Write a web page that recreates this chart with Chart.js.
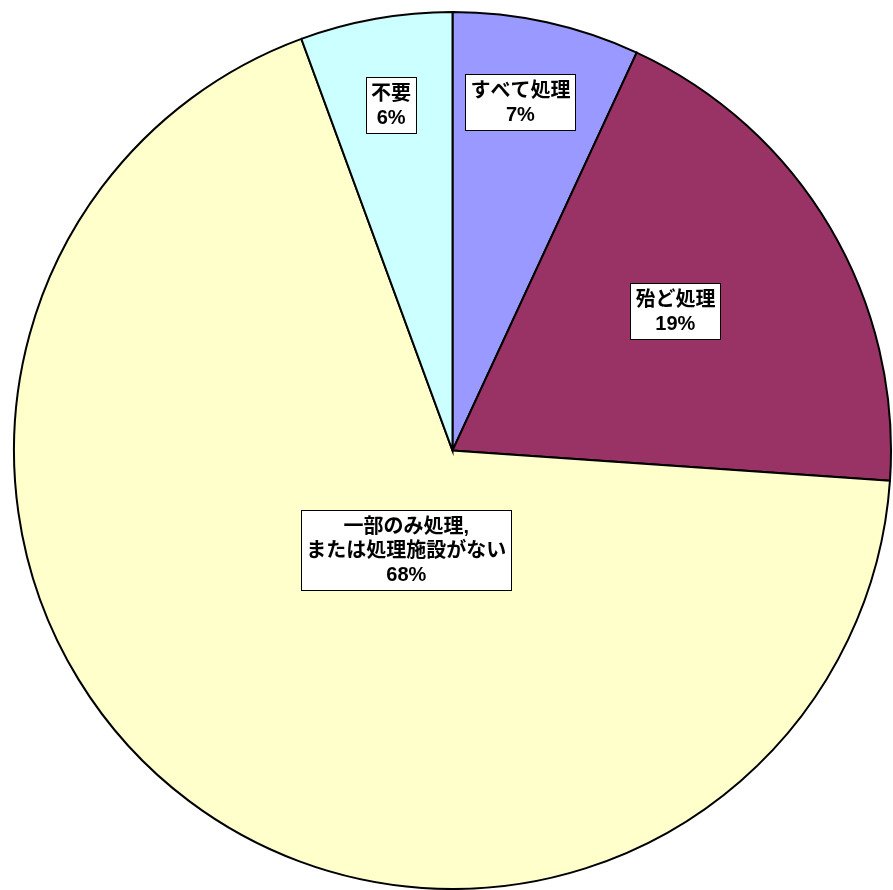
<!DOCTYPE html>
<html>
<head>
<meta charset="utf-8">
<script src="https://cdn.jsdelivr.net/npm/chart.js@4"></script>
<style>
  html, body { margin: 0; padding: 0; background: #fff; }
  #wrap { width: 893px; height: 890px; }
</style>
</head>
<body>
<div id="wrap"><canvas id="pieChart"></canvas></div>
<script>
// data (clockwise from 12 o'clock)
const categories = ['すべて処理', '殆ど処理', '一部のみ処理,\nまたは処理施設がない', '不要'];
const shares = [6.9, 19.2, 68.3, 5.6];
const sliceColors = ['#9999FF', '#993366', '#FFFFCC', '#CCFFFF'];

// label placement (fraction of radius, angle shift in degrees)
const labelRadius = [0.81, 0.60, 0.25, 0.80];
const labelShift = [-1.4, -1.5, -12, 0];

const labelFont = 'bold 20px "Liberation Sans", "Noto Sans CJK JP", sans-serif';
const lineHeight = 24;

const boxLabels = {
  id: 'boxLabels',
  afterDatasetsDraw(chart) {
    const ctx = chart.ctx;
    const arcs = chart.getDatasetMeta(0).data;
    ctx.save();
    ctx.font = labelFont;
    ctx.textAlign = 'center';
    ctx.textBaseline = 'middle';
    arcs.forEach(function(arc, i) {
      const p = arc.getProps(['x', 'y', 'startAngle', 'endAngle', 'outerRadius'], true);
      const mid = (p.startAngle + p.endAngle) / 2 + labelShift[i] * Math.PI / 180;
      const r = p.outerRadius * labelRadius[i];
      const cx = p.x + Math.cos(mid) * r;
      const cy = p.y + Math.sin(mid) * r;

      const lines = categories[i].split('\n');
      lines.push(Math.round(shares[i]) + '%');
      let w = 0;
      lines.forEach(function(t) { w = Math.max(w, ctx.measureText(t).width); });
      const boxW = Math.round(w + 10);
      const boxH = lines.length * lineHeight + 8;
      const bx = Math.round(cx - boxW / 2) + 0.5;
      const by = Math.round(cy - boxH / 2) + 0.5;

      ctx.fillStyle = '#ffffff';
      ctx.fillRect(bx, by, boxW, boxH);
      ctx.strokeStyle = '#000000';
      ctx.lineWidth = 1;
      ctx.strokeRect(bx, by, boxW, boxH);

      ctx.fillStyle = '#000000';
      lines.forEach(function(t, k) {
        ctx.fillText(t, cx, by + 4 + lineHeight * (k + 0.5) + 1);
      });
    });
    ctx.restore();
  }
};

new Chart(document.getElementById('pieChart').getContext('2d'), {
  type: 'pie',
  data: {
    labels: categories,
    datasets: [{
      data: shares,
      backgroundColor: sliceColors,
      borderColor: '#000000',
      borderWidth: 2,
      borderJoinStyle: 'miter'
    }]
  },
  options: {
    responsive: true,
    maintainAspectRatio: false,
    animation: false,
    layout: { padding: { left: 12, top: 11, right: 0, bottom: 0 } },
    plugins: {
      legend: { display: false },
      tooltip: { enabled: false }
    }
  },
  plugins: [boxLabels]
});
</script>
</body>
</html>
